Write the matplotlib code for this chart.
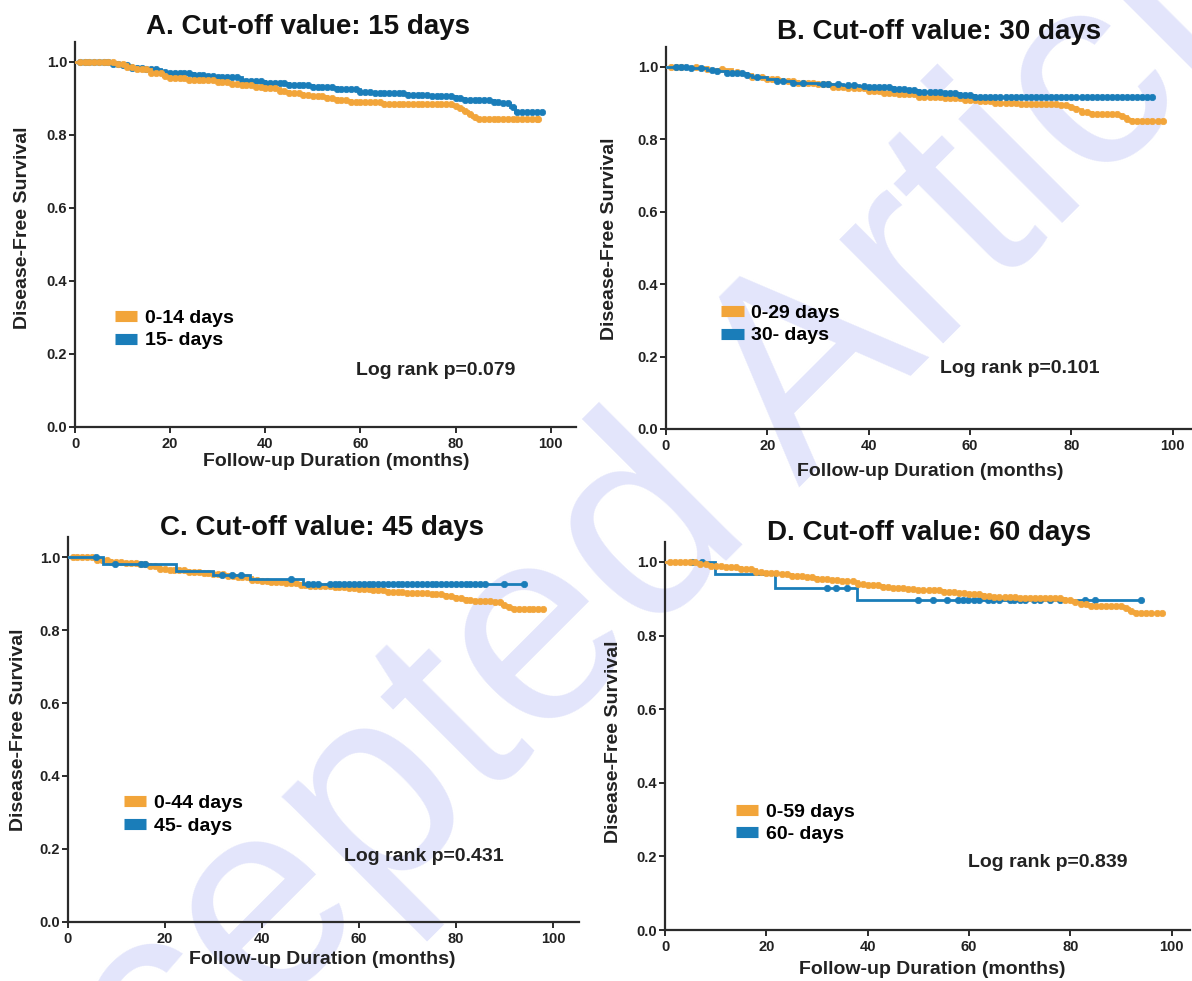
import numpy as np
import matplotlib
matplotlib.use('Agg')
import matplotlib.pyplot as plt
from matplotlib.lines import Line2D

plt.rcParams['font.family'] = ['Liberation Sans', 'DejaVu Sans']
plt.rcParams['font.weight'] = 'bold'

ORANGE = '#F2A53A'
BLUE = '#1A7DB9'
AXC = '#2b2b2b'

W, H = 1192, 981

titles = ['A. Cut-off value: 15 days', 'B. Cut-off value: 30 days',
          'C. Cut-off value: 45 days', 'D. Cut-off value: 60 days']
labels_short = ['0-14 days', '0-29 days', '0-44 days', '0-59 days']
labels_long = ['15- days', '30- days', '45- days', '60- days']
pvalues = ['Log rank p=0.079', 'Log rank p=0.101', 'Log rank p=0.431', 'Log rank p=0.839']
xticks = [0, 20, 40, 60, 80, 100]
yticks = [0.0, 0.2, 0.4, 0.6, 0.8, 1.0]
xlabel = 'Follow-up Duration (months)'
ylabel = 'Disease-Free Survival'
watermark = 'Accepted Article'

# ---------------- Panel A ----------------
A_short_t = [0, 8.5, 10.9, 13, 16, 18.5, 20, 24, 30, 33, 35, 38, 40, 43, 45, 48, 50, 53, 55, 58, 65,
             79.5, 80.5, 81.5, 82.5, 83.5, 84.3]
A_short_s = [1.0, 0.995, 0.986, 0.98, 0.97, 0.962, 0.955, 0.95, 0.945, 0.94, 0.936, 0.932, 0.928, 0.92,
             0.914, 0.91, 0.905, 0.9, 0.895, 0.891, 0.885, 0.879, 0.872, 0.864, 0.856, 0.849, 0.843]
A_short_end = 97.4
A_short_cens = [1, 2, 3, 4, 5, 6, 7, 8, 9, 10, 11, 12, 13, 14, 15, 16, 17, 18, 19, 20, 21, 22, 23, 24, 25,
                26, 27, 28, 29, 30, 31, 32, 33, 34, 35, 36, 37, 38, 39, 40, 41, 42, 43, 44, 45, 46, 47, 48,
                49, 50, 51, 52, 53, 54, 55, 56, 57, 58, 59, 60, 61, 62, 63, 64, 65, 66, 67, 68, 69, 70, 71,
                72, 73, 74, 75, 76, 77, 78, 79, 80, 81, 82, 83, 84, 85, 86, 87, 88, 89, 90, 91, 92, 93, 94,
                95, 96, 97, 97.4]
A_long_t = [0, 8, 10, 12, 15, 18, 20, 25, 28, 30, 35, 40, 45, 50, 55, 60, 63, 70, 75, 80, 82, 88, 90,
            91.5, 92.5]
A_long_s = [1.0, 0.995, 0.99, 0.984, 0.979, 0.973, 0.97, 0.964, 0.96, 0.957, 0.948, 0.941, 0.935, 0.93,
            0.925, 0.918, 0.914, 0.909, 0.905, 0.9, 0.895, 0.891, 0.886, 0.875, 0.862]
A_long_end = 98.2
A_long_cens = [1, 2, 3, 4, 5, 6, 7, 8, 9, 10, 11, 12, 13, 14, 15, 16, 17, 18, 19, 20, 21, 22, 23, 24, 25,
               26, 27, 28, 29, 30, 31, 32, 33, 34, 35, 36, 37, 38, 39, 40, 41, 42, 43, 44, 45, 46, 47, 48,
               49, 50, 51, 52, 53, 54, 55, 56, 57, 58, 59, 60, 61, 62, 63, 64, 65, 66, 67, 68, 69, 70, 71,
               72, 73, 74, 75, 76, 77, 78, 79, 80, 81, 82, 83, 84, 85, 86, 87, 88, 89, 90, 91, 92, 93, 94,
               95, 96, 97, 98.2]

# ---------------- Panel B ----------------
B_short_t = [0, 5, 8, 13, 15, 17, 20, 23, 26, 30, 33, 36, 40, 43, 46, 50, 55, 59, 62, 65, 70, 78,
             79.5, 81, 82, 84, 89.5, 91, 92]
B_short_s = [1.0, 0.998, 0.993, 0.985, 0.979, 0.972, 0.965, 0.96, 0.956, 0.951, 0.945, 0.94, 0.933,
             0.928, 0.924, 0.917, 0.913, 0.908, 0.905, 0.901, 0.897, 0.893, 0.888, 0.882, 0.876, 0.869,
             0.864, 0.856, 0.849]
B_short_end = 98.0
B_short_cens = [1, 2, 3, 6, 8, 11, 14, 17, 19, 20, 21, 22, 24, 25, 26, 27, 28, 29, 30, 31, 32, 33, 34, 35,
                36, 37, 38, 39, 40, 41, 42, 43, 44, 45, 46, 47, 48, 49, 50, 51, 52, 53, 54, 55, 56, 57,
                58, 59, 60, 61, 62, 63, 64, 65, 66, 67, 68, 69, 70, 71, 72, 73, 74, 75, 76, 77, 78, 79,
                80, 81, 82, 83, 84, 85, 86, 87, 88, 89, 90, 91, 92, 93, 94, 95, 96, 97, 98]
B_long_t = [0, 5, 8, 10, 12, 16, 17, 20, 22, 25, 30, 35, 38, 40, 45, 48, 50, 55, 58, 61]
B_long_s = [1.0, 0.997, 0.992, 0.987, 0.983, 0.978, 0.972, 0.965, 0.959, 0.956, 0.953, 0.95, 0.946,
            0.944, 0.939, 0.935, 0.93, 0.926, 0.923, 0.917]
B_long_end = 96.0
B_long_cens = [2, 3, 4, 5, 7, 9, 10, 12, 13, 14, 15, 16, 18, 22, 23, 25, 27, 31, 32, 34, 36, 37, 39, 40,
               41, 42, 43, 44, 45, 46, 47, 48, 49, 50, 51, 52, 53, 54, 55, 56, 57, 58, 59, 60, 61, 62,
               63, 64, 65, 66, 67, 68, 69, 70, 71, 72, 73, 74, 75, 76, 77, 78, 79, 80, 81, 82, 83, 84,
               85, 86, 87, 88, 89, 90, 91, 92, 93, 94, 95, 96]

# ---------------- Panel C ----------------
C_short_t = [0, 6, 9, 12, 15, 17, 19, 21, 25, 28, 30, 33, 35, 38, 40, 42, 45, 48, 50, 55, 58, 60, 63,
             66, 70, 75, 78, 80, 82, 84, 88, 89.5, 90.5, 91.5]
C_short_s = [1.0, 0.994, 0.988, 0.984, 0.981, 0.975, 0.968, 0.964, 0.961, 0.956, 0.953, 0.948, 0.945,
             0.939, 0.936, 0.933, 0.93, 0.925, 0.922, 0.918, 0.915, 0.912, 0.909, 0.906, 0.902, 0.9,
             0.895, 0.888, 0.883, 0.879, 0.877, 0.87, 0.864, 0.859]
C_short_end = 98.0
C_short_cens = [1, 2, 3, 4, 5, 6, 7, 8, 9, 10, 11, 12, 13, 14, 15, 16, 17, 18, 19, 20, 21, 22, 23, 24, 25,
                26, 27, 28, 29, 30, 31, 32, 33, 34, 35, 36, 37, 38, 39, 40, 41, 42, 43, 44, 45, 46, 47, 48,
                49, 50, 51, 52, 53, 54, 55, 56, 57, 58, 59, 60, 61, 62, 63, 64, 65, 66, 67, 68, 69, 70, 71,
                72, 73, 74, 75, 76, 77, 78, 79, 80, 81, 82, 83, 84, 85, 86, 87, 88, 89, 90, 91, 92, 93, 94,
                95, 96, 97, 98]
C_long_t = [0, 7.3, 22.3, 30, 37.5, 48.5]
C_long_s = [1.0, 0.982, 0.962, 0.952, 0.94, 0.927]
C_long_end = 94.0
C_long_cens = [5.9, 9.7, 15.2, 16, 31.8, 33.8, 35.8, 46, 49.5, 50.5, 51.5, 54, 55, 56, 57, 58, 59, 60, 61,
               62, 63, 64, 65, 66, 67, 68, 69, 70, 71, 72, 73, 74, 75, 76, 77, 78, 79, 80, 81, 82, 83,
               84, 85, 86, 90, 94]

# ---------------- Panel D ----------------
D_short_t = [0, 7, 9, 12, 15, 18, 20, 23, 25, 28, 30, 33, 35, 38, 40, 43, 45, 48, 50, 55, 58, 60, 63,
             65, 70, 75, 79, 80.5, 82, 84, 90.5, 91.5, 92.5]
D_short_s = [1.0, 0.995, 0.99, 0.985, 0.98, 0.974, 0.971, 0.966, 0.962, 0.958, 0.955, 0.95, 0.947,
             0.941, 0.938, 0.933, 0.93, 0.926, 0.923, 0.919, 0.915, 0.912, 0.908, 0.906, 0.903, 0.901,
             0.897, 0.891, 0.885, 0.879, 0.874, 0.868, 0.862]
D_short_end = 98.0
D_short_cens = [1, 2, 3, 4, 5, 6, 7, 8, 9, 10, 11, 12, 13, 14, 15, 16, 17, 18, 19, 20, 21, 22, 23, 24, 25,
                26, 27, 28, 29, 30, 31, 32, 33, 34, 35, 36, 37, 38, 39, 40, 41, 42, 43, 44, 45, 46, 47, 48,
                49, 50, 51, 52, 53, 54, 55, 56, 57, 58, 59, 60, 61, 62, 63, 64, 65, 66, 67, 68, 69, 70, 71,
                72, 73, 74, 75, 76, 77, 78, 79, 80, 81, 82, 83, 84, 85, 86, 87, 88, 89, 90, 91, 92, 93, 94,
                95, 96, 97, 98]
D_long_t = [0, 9.9, 21.7, 37.9]
D_long_s = [1.0, 0.967, 0.93, 0.896]
D_long_end = 94.0
D_long_cens = [5.4, 7.3, 31.9, 33.8, 36.0, 50.0, 52.9, 55.7, 57.8, 58.9, 59.8, 60.9, 61.9, 63.7, 64.7,
               66.0, 68.0, 68.9, 70.0, 71.0, 72.9, 74.0, 75.9, 77.9, 82.8, 84.9, 94.0]

panels = [
    (A_short_t, A_short_s, A_short_end, A_short_cens, A_long_t, A_long_s, A_long_end, A_long_cens),
    (B_short_t, B_short_s, B_short_end, B_short_cens, B_long_t, B_long_s, B_long_end, B_long_cens),
    (C_short_t, C_short_s, C_short_end, C_short_cens, C_long_t, C_long_s, C_long_end, C_long_cens),
    (D_short_t, D_short_s, D_short_end, D_short_cens, D_long_t, D_long_s, D_long_end, D_long_cens),
]

# layout (pixels): left, right, top, bottom of axes box; x extent; title pos; ylabel pos; xlabel pos
layout = [
    dict(box=(75, 576, 41.7, 426.7), xmax=105.3, title=(308, 27), ylab=(23, 228), xlab=(336, 462),
         leg=(8.4, 0.2665), logrank=(75.8, 0.153), blue_top=False),
    dict(box=(666, 1191, 46.7, 429), xmax=103.6, title=(939, 32), ylab=(610, 239), xlab=(930, 472),
         leg=(10.9, 0.289), logrank=(69.9, 0.168), blue_top=True),
    dict(box=(67.7, 578.6, 537.3, 921.7), xmax=105.3, title=(322, 528), ylab=(19, 730), xlab=(322, 960),
         leg=(11.6, 0.294), logrank=(73.5, 0.18), blue_top=True),
    dict(box=(665, 1190, 541.7, 930), xmax=103.6, title=(929, 533), ylab=(613, 742), xlab=(932, 970),
         leg=(14.0, 0.29), logrank=(75.5, 0.184), blue_top=False),
]

fig = plt.figure(figsize=(W / 100, H / 100), dpi=100)

# watermark
fig.text(0.495, 0.393, watermark, rotation=45, fontsize=200, color='#E3E5FB',
         ha='center', va='center', fontweight='normal', zorder=-5)


def km_draw(ax, t, s, end, cens, color, z):
    t = np.asarray(t, float)
    s = np.asarray(s, float)
    xs = np.r_[t, end]
    ys = np.r_[s, s[-1]]
    ax.step(xs, ys, where='post', color=color, lw=2.0, zorder=z, solid_joinstyle='miter')
    c = np.asarray(cens, float)
    idx = np.searchsorted(t, c, side='right') - 1
    ax.plot(c, s[idx], 'o', color=color, ms=4.6, mec=color, mew=0.5, zorder=z + 0.1, clip_on=False)


for i, (data, lay) in enumerate(zip(panels, layout)):
    l, r, tp, bt = lay['box']
    ax = fig.add_axes([l / W, 1 - bt / H, (r - l) / W, (bt - tp) / H])
    ax.patch.set_alpha(0)
    st, ss, se, sc, lt, ls, le, lc = data
    zs, zl = (3, 4) if lay['blue_top'] else (4, 3)
    km_draw(ax, lt, ls, le, lc, BLUE, zl)
    km_draw(ax, st, ss, se, sc, ORANGE, zs)

    ax.set_xlim(0, lay['xmax'])
    ax.set_ylim(0, 1.055)
    ax.set_xticks(xticks)
    ax.set_yticks(yticks)
    ax.set_yticklabels([f'{v:.1f}' for v in yticks])
    for sp in ['top', 'right']:
        ax.spines[sp].set_visible(False)
    for sp in ['left', 'bottom']:
        ax.spines[sp].set_color(AXC)
        ax.spines[sp].set_linewidth(1.6)
    ax.tick_params(axis='both', direction='out', length=4.5, width=1.4, color=AXC,
                   labelsize=10.5, labelcolor='#222222')
    ax.tick_params(axis='y', pad=1)
    ax.tick_params(axis='x', pad=3)
    for lab in ax.get_xticklabels() + ax.get_yticklabels():
        lab.set_fontweight('bold')

    handles = [Line2D([0], [0], color=ORANGE, lw=8, solid_capstyle='butt'),
               Line2D([0], [0], color=BLUE, lw=8, solid_capstyle='butt')]
    ax.legend(handles, [labels_short[i], labels_long[i]], loc='center left',
              bbox_to_anchor=lay['leg'], bbox_transform=ax.transData, frameon=False,
              prop={'size': 14, 'weight': 'bold'}, handlelength=1.15, handletextpad=0.4,
              labelspacing=0.25, borderpad=0, borderaxespad=0)
    ax.text(lay['logrank'][0], lay['logrank'][1], pvalues[i], ha='center', va='center',
            fontsize=14, fontweight='bold', color='#222222')

    tx, ty = lay['title']
    fig.text(tx / W, 1 - ty / H, titles[i], ha='center', va='center', fontsize=20,
             fontweight='bold', color='#111111')
    yx, yy = lay['ylab']
    fig.text(yx / W, 1 - yy / H, ylabel, rotation=90, ha='center', va='center', fontsize=14,
             fontweight='bold', color='#222222')
    xx, xy = lay['xlab']
    fig.text(xx / W, 1 - xy / H, xlabel, ha='center', va='center', fontsize=14,
             fontweight='bold', color='#222222')

fig.savefig('out.png', dpi=100)
